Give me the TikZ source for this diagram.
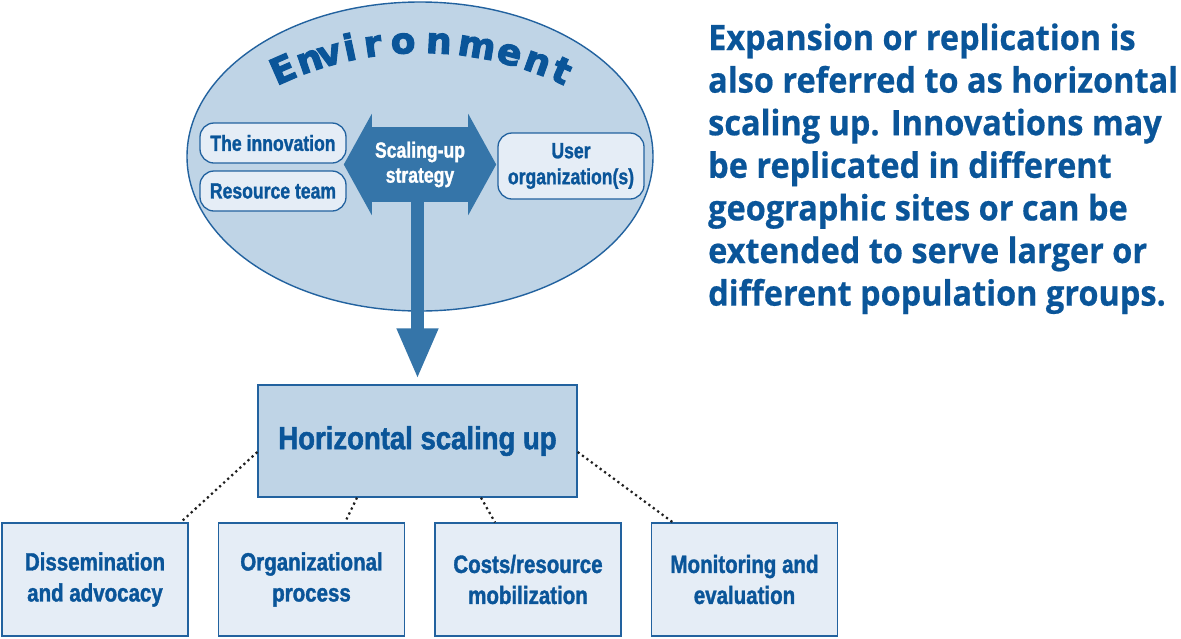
\documentclass[tikz,border=0pt]{standalone}
\usepackage{fontspec}
\usetikzlibrary{arrows.meta,calc,shapes.geometric}
\newfontfamily\rtfont[FakeBold=0.6]{Open Sans}
\newfontfamily\condA[FakeStretch=0.8,FakeBold=1.2]{Liberation Sans}
\newfontfamily\condB[FakeStretch=0.82,FakeBold=1.4]{Liberation Sans}
\newfontfamily\condC[FakeStretch=0.86,FakeBold=1.6]{Liberation Sans}
\newfontfamily\envfont[FakeBold=3]{DejaVu Sans}
\definecolor{txtblue}{HTML}{0A5599}
\definecolor{arrowblue}{HTML}{3575A9}
\definecolor{ellfill}{HTML}{BFD4E6}
\definecolor{lightfill}{HTML}{E5EDF6}
\definecolor{strokeblue}{HTML}{22629F}
\newlength\rtw
\begin{document}
\settowidth\rtw{\rtfont\bfseries\fontsize{35}{42}\selectfont also referred to as horizontal}%
\pgfmathsetmacro\rtsx{470/\the\rtw}%
\begin{tikzpicture}[x=1pt,y=-1pt,
  envletter/.style={text=txtblue, font=\envfont\bfseries\fontsize{36}{40}\selectfont, inner sep=0pt},
  rbox/.style={draw=strokeblue, fill=lightfill, rounded corners=14pt, line width=1.3pt,
    minimum width=146pt, minimum height=40pt, inner sep=0pt, align=center,
    text=txtblue, font=\condA\bfseries\fontsize{22}{26}\selectfont},
  bbox/.style={draw=strokeblue, fill=lightfill, line width=1.3pt,
    minimum width=186pt, minimum height=113pt, inner sep=0pt, align=center,
    text=txtblue, font=\condB\bfseries\fontsize{25}{31}\selectfont},
  rt/.style={text=txtblue, anchor=base west, inner sep=0pt,
    font=\rtfont\bfseries\fontsize{35}{42}\selectfont},
  dotline/.style={draw=black!88, line width=2.2pt, dash pattern=on 2.2pt off 3.3pt}
]
\useasboundingbox (0,0) rectangle (1181,638);
\fill[white] (0,0) rectangle (1181,638);

% environment ellipse
\node[ellipse, draw=strokeblue, fill=ellfill, line width=1.4pt, inner sep=0pt,
  minimum width=466pt, minimum height=309pt] (env) at (420,156.5) {};

% curved title
\foreach \l/\a [count=\i] in {E/113.7, n/109.0, v/105.5, i/102.0, r/98.1, o/93.0, n/87.0, m/80.6, e/75.0, n/70.1, t/65.8}
  \node[envletter, anchor=base, rotate=\a-90] (envl\i) at ($(421,384)+(-\a:331)$) {\l};

% double arrow (scaling-up strategy)
\node[fill=arrowblue, minimum width=96pt, minimum height=75pt, inner sep=0pt, align=center,
  text=white, font=\condA\bfseries\fontsize{22}{25}\selectfont] (strat) at (420,164.5) {Scaling-up\\strategy};
\fill[arrowblue] (strat.north west) -- ++(0,-13) -- ($(strat.west)+(-28,0)$) -- ($(strat.south west)+(0,13)$) -- (strat.south west) -- cycle;
\fill[arrowblue] (strat.north east) -- ++(0,-13) -- ($(strat.east)+(28,0)$) -- ($(strat.south east)+(0,13)$) -- (strat.south east) -- cycle;

% rounded boxes
\node[rbox] (innov) at (273,143) {The innovation};
\node[rbox] (resteam) at (273,191) {Resource team};
\node[rbox, minimum height=66pt] (userorg) at (571,166) {User\\organization(s)};

% main box
\node[draw=strokeblue, fill=ellfill, line width=1.3pt, minimum width=319pt, minimum height=112pt,
  inner sep=0pt, text=txtblue, font=\condC\bfseries\fontsize{32}{36}\selectfont] (hsu) at (417.5,441) {Horizontal scaling up};

% stem arrow
\draw[arrowblue, line width=13pt, -{Triangle[length=51pt,width=38pt]}]
  ($(strat.south)+(-2.5,0)$) -- ($(hsu.north)+(0,-5)$);

% bottom boxes
\node[bbox] (dis) at (95,579.5) {Dissemination\\and advocacy};
\node[bbox] (org) at (311.5,579.5) {Organizational\\process};
\node[bbox] (cost) at (528,579.5) {Costs/resource\\mobilization};
\node[bbox] (mon) at (744.5,579.5) {Monitoring and\\evaluation};

% dotted connectors
\draw[dotline] ($(hsu.west)+(0,11)$) -- ($(dis.north east)+(-8,0)$);
\draw[dotline] ($(hsu.south)+(-60.5,0)$) -- ($(org.north)+(33.5,0)$);
\draw[dotline] ($(hsu.south)+(63.5,0)$) -- ($(cost.north)+(-33,0)$);
\draw[dotline] ($(hsu.east)+(0,11)$) -- ($(mon.north west)+(22,0)$);

% right-hand text
\node[rt] (t1) at (708,50) {\scalebox{\rtsx}[1]{Expansion or replication is}};
\node[rt] (t2) at (708,92.6) {\scalebox{\rtsx}[1]{also referred to as horizontal}};
\node[rt] (t3) at (708,135.2) {\scalebox{\rtsx}[1]{scaling up. Innovations may}};
\node[rt] (t4) at (708,177.8) {\scalebox{\rtsx}[1]{be replicated in different}};
\node[rt] (t5) at (708,220.4) {\scalebox{\rtsx}[1]{geographic sites or can be}};
\node[rt] (t6) at (708,263) {\scalebox{\rtsx}[1]{extended to serve larger or}};
\node[rt] (t7) at (708,305.6) {\scalebox{\rtsx}[1]{different population groups.}};
\end{tikzpicture}
\end{document}
